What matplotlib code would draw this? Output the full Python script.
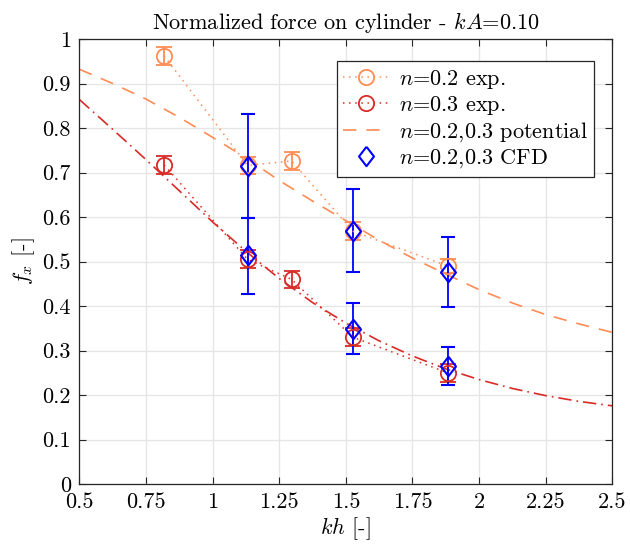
import matplotlib
matplotlib.use('Agg')
from matplotlib import pyplot as plt
from matplotlib.lines import Line2D

# experiment positions and normalized force
kh_exp = [0.818, 1.131, 1.296, 1.527, 1.883]
fx_n02 = [0.962, 0.716, 0.726, 0.568, 0.490]
err_n02 = [0.021, 0.020, 0.020, 0.020, 0.016]
fx_n03 = [0.717, 0.505, 0.460, 0.330, 0.250]
err_n03 = [0.020, 0.020, 0.020, 0.020, 0.020]

# CFD
kh_cfd = [1.131, 1.131, 1.527, 1.527, 1.883, 1.883]
fx_cfd = [0.714, 0.514, 0.569, 0.349, 0.477, 0.266]
err_lo_cfd = [0.116, 0.086, 0.093, 0.057, 0.080, 0.044]
err_hi_cfd = [0.117, 0.083, 0.094, 0.057, 0.079, 0.043]

# potential theory curves
kh_pot = [0.5, 0.625, 0.75, 0.875, 1.0, 1.125, 1.25, 1.375, 1.5, 1.625,
          1.75, 1.875, 2.0, 2.125, 2.25, 2.375, 2.5]
pot_n02 = [0.932, 0.900, 0.865, 0.824, 0.779, 0.733, 0.682, 0.636, 0.592,
           0.548, 0.508, 0.472, 0.437, 0.407, 0.381, 0.360, 0.341]
pot_n03 = [0.864, 0.797, 0.729, 0.659, 0.589, 0.523, 0.462, 0.408, 0.362,
           0.322, 0.288, 0.259, 0.235, 0.215, 0.199, 0.186, 0.176]

xticks = [0.5, 0.75, 1, 1.25, 1.5, 1.75, 2, 2.25, 2.5]
xticklabels = ['0.5', '0.75', '1', '1.25', '1.5', '1.75', '2', '2.25', '2.5']
yticks = [0, 0.1, 0.2, 0.3, 0.4, 0.5, 0.6, 0.7, 0.8, 0.9, 1]
yticklabels = ['0', '0.1', '0.2', '0.3', '0.4', '0.5', '0.6', '0.7', '0.8', '0.9', '1']
labels = ['$n$=0.2 exp.', '$n$=0.3 exp.', '$n$=0.2,0.3 potential', '$n$=0.2,0.3 CFD']

plt.rcParams['font.family'] = 'serif'
plt.rcParams['font.serif'] = ['cmr10', 'DejaVu Serif']
plt.rcParams['mathtext.fontset'] = 'cm'
plt.rcParams['axes.formatter.use_mathtext'] = True

orange = (1.0, 0.55, 0.33)
red = (0.85, 0.17, 0.15)
blue = (0.0, 0.0, 1.0)
dots = (0, (1, 3))

fig = plt.figure(figsize=(6.3, 5.49), dpi=100)
ax = fig.add_axes([0.126, 0.118, 0.846, 0.811])

ax.plot(kh_pot, pot_n03, color=red, lw=1.2, ls=(0, (8, 3, 1, 3)))
ax.plot(kh_pot, pot_n02, color=orange, lw=1.2, ls=(0, (8, 6)))

ax.errorbar(kh_exp, fx_n02, yerr=err_n02, color=orange, marker='o', ms=11,
            mfc='none', mew=1.3, ls=dots, lw=1.1, capsize=5.5, elinewidth=1.3)
ax.errorbar(kh_exp, fx_n03, yerr=err_n03, color=red, marker='o', ms=11,
            mfc='none', mew=1.3, ls=dots, lw=1.1, capsize=5.5, elinewidth=1.3)

diamond = [(0, 1), (0.77, 0), (0, -1), (-0.77, 0), (0, 1)]
ax.errorbar(kh_cfd, fx_cfd, yerr=[err_lo_cfd, err_hi_cfd], color=blue,
            marker=diamond, ms=14, mfc='none', mew=1.5, ls='none',
            capsize=5, elinewidth=1.3)

ax.set_xlim(0.5, 2.5)
ax.set_ylim(0, 1)
ax.set_xticks(xticks)
ax.set_xticklabels(xticklabels)
ax.set_yticks(yticks)
ax.set_yticklabels(yticklabels)
ax.tick_params(direction='in', top=True, right=True, length=5, labelsize=16,
               color='0.15', pad=6)
ax.grid(True, color='0.9', lw=1)
ax.set_axisbelow(True)
for s in ax.spines.values():
    s.set_color('0.15')
    s.set_linewidth(0.9)

ax.set_title('Normalized force on cylinder - $kA$=0.10', fontsize=16, pad=7)
ax.set_xlabel('$kh$ [-]', fontsize=16, labelpad=2)
ax.set_ylabel('$f_x$ [-]', fontsize=16, labelpad=4)

# legend handles without error bars
handles = [
    Line2D([], [], color=orange, marker='o', ms=11, mfc='none', mew=1.3, ls=dots, lw=1.1),
    Line2D([], [], color=red, marker='o', ms=11, mfc='none', mew=1.3, ls=dots, lw=1.1),
    Line2D([], [], color=orange, lw=1.2, ls=(0, (8, 6))),
    Line2D([], [], color=blue, marker=diamond, ms=14, mfc='none', mew=1.5, ls='none'),
]
leg = ax.legend(handles, labels, loc='upper left', bbox_to_anchor=(0.483, 0.95),
                borderaxespad=0, fontsize=16, fancybox=False, framealpha=1,
                edgecolor='0.15', handlelength=2.0, borderpad=0.3,
                labelspacing=0.15, handletextpad=0.5)
leg.get_frame().set_linewidth(0.9)

plt.savefig('out.png', dpi=100)
